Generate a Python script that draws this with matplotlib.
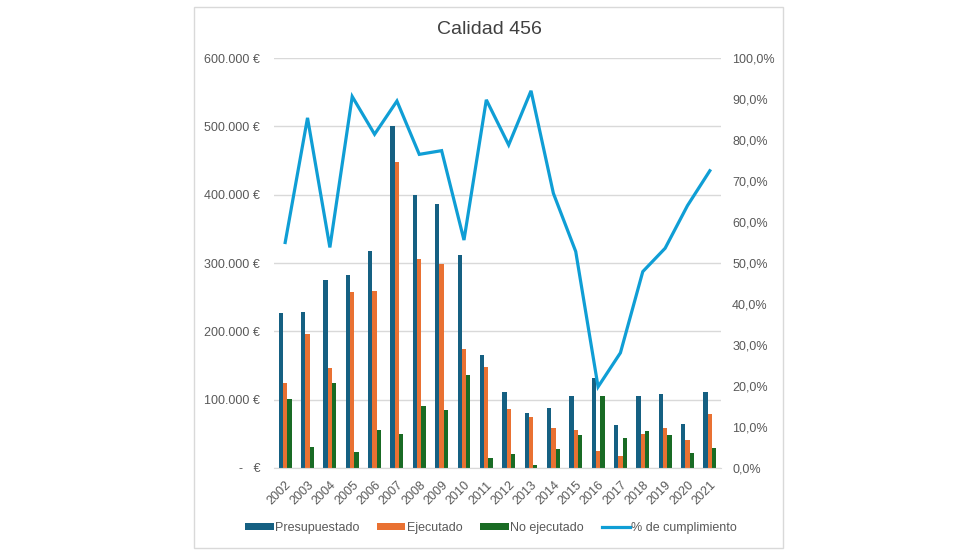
#!/usr/bin/env python3
"""Calidad 456: presupuestado vs ejecutado, con % de cumplimiento."""
import matplotlib
matplotlib.use("Agg")
import matplotlib.pyplot as plt
import numpy as np
from matplotlib.patches import Rectangle
from matplotlib.ticker import FuncFormatter

YEARS = [str(y) for y in range(2002, 2022)]
PRESUPUESTADO = [227, 229, 275, 283, 318, 501, 400, 386, 311, 165,
                 111, 80, 88, 105, 132, 63, 106, 108, 64, 111]
EJECUTADO = [125, 196, 147, 257, 259, 448, 306, 299, 174, 148,
             87, 74, 59, 55, 25, 17, 50, 58, 40.5, 79]
NO_EJECUTADO = [100.5, 31, 125, 24, 56, 50, 91, 85, 136, 15,
                21, 4.4, 28, 48, 105, 44, 54, 49, 21.5, 29]
CUMPLIMIENTO = [55.0, 85.4, 53.8, 90.6, 81.4, 89.5, 76.5, 77.4, 55.6, 89.8,
                78.8, 92.0, 67.0, 52.8, 19.8, 28.1, 47.9, 53.6, 64.0, 72.5]

C_PRES = "#156082"
C_EJEC = "#E97132"
C_NOEJ = "#196B24"
C_LINE = "#0F9ED5"
C_TEXT = "#595959"
C_GRID = "#D9D9D9"


def euro(v, _pos):
    if v == 0:
        return "-   €"
    return f"{int(v):,}".replace(",", ".") + " €"


def pct(v, _pos):
    return f"{v:.1f}".replace(".", ",") + "%"


def main():
    plt.rcParams.update({
        "font.family": ["Liberation Sans", "DejaVu Sans"],
    })

    fig = plt.figure(figsize=(9.8, 5.6), dpi=100)
    fig.patches.append(Rectangle((194 / 980, 1 - 548 / 560), 589 / 980, 541 / 560,
                                 transform=fig.transFigure, fill=False,
                                 edgecolor=C_GRID, linewidth=1.0))

    ax = fig.add_axes([274 / 980, 1 - 468 / 560, 447 / 980, 410 / 560])
    x = np.arange(len(YEARS))
    w = 0.193
    pres = np.array(PRESUPUESTADO) * 1000
    ejec = np.array(EJECUTADO) * 1000
    noej = np.array(NO_EJECUTADO) * 1000
    b1 = ax.bar(x - w, pres, w, color=C_PRES, label="Presupuestado", zorder=2)
    b2 = ax.bar(x, ejec, w, color=C_EJEC, label="Ejecutado", zorder=2)
    b3 = ax.bar(x + w, noej, w, color=C_NOEJ, label="No ejecutado", zorder=2)

    ax.set_xlim(-0.5, len(YEARS) - 0.5)
    ax.set_ylim(0, 600000)
    ax.set_yticks(np.arange(0, 600001, 100000))
    ax.yaxis.set_major_formatter(FuncFormatter(euro))
    ax.grid(axis="y", color=C_GRID, linewidth=1.0, zorder=0)
    ax.set_xticks(x)
    ax.set_xticklabels(YEARS, rotation=45, ha="right", rotation_mode="anchor")
    ax.tick_params(axis="both", length=0, labelsize=9, colors=C_TEXT)
    ax.tick_params(axis="y", pad=10)
    ax.tick_params(axis="x", pad=8)
    for side in ("top", "left", "right"):
        ax.spines[side].set_visible(False)
    ax.spines["bottom"].set_color(C_GRID)

    ax2 = ax.twinx()
    (l1,) = ax2.plot(x, CUMPLIMIENTO, color=C_LINE, linewidth=2.3,
                     label="% de cumplimiento", solid_joinstyle="miter")
    ax2.set_ylim(0, 100)
    ax2.set_yticks(np.arange(0, 101, 10))
    ax2.yaxis.set_major_formatter(FuncFormatter(pct))
    ax2.tick_params(axis="y", length=0, labelsize=9, colors=C_TEXT, pad=8)
    for side in ("top", "left", "right", "bottom"):
        ax2.spines[side].set_visible(False)

    fig.text(489 / 980, 1 - 30 / 560, "Calidad 456", ha="center", va="center",
             fontsize=14, color="#404040")

    fig.legend([b1, b2, b3, l1],
               ["Presupuestado", "Ejecutado", "No ejecutado", "% de cumplimiento"],
               loc="center", bbox_to_anchor=(491 / 980, 1 - 528 / 560),
               ncol=4, frameon=False, fontsize=9, handlelength=2.25,
               handleheight=0.5, columnspacing=1.45, handletextpad=0.1,
               labelcolor=C_TEXT)

    fig.savefig("out.png", dpi=100)
    plt.close(fig)


if __name__ == "__main__":
    main()
